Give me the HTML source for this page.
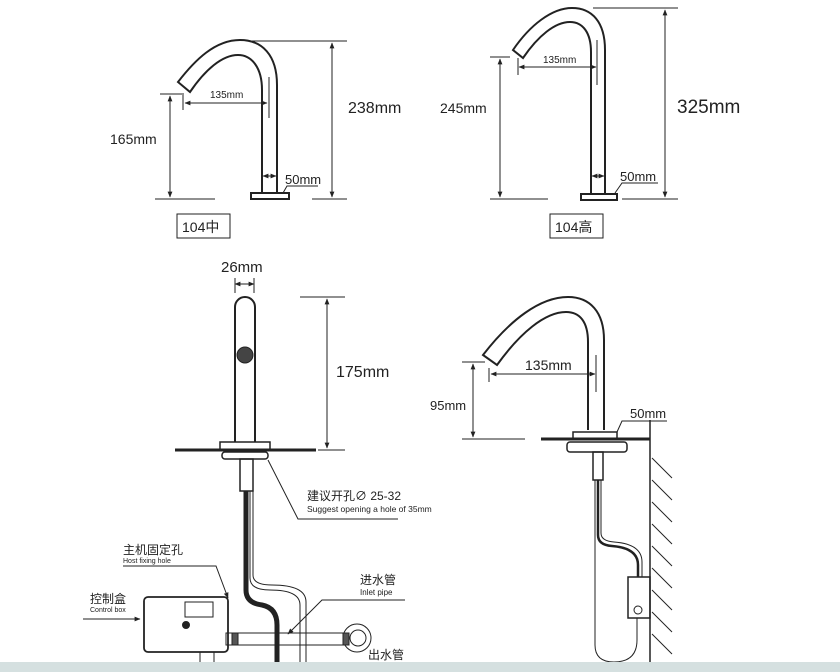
<!DOCTYPE html>
<html><head><meta charset="utf-8"><style>
body{margin:0;background:#fff;}
svg{display:block;}
text{font-family:"Liberation Sans","Noto Sans CJK SC",sans-serif;fill:#222;}
</style></head><body>
<svg width="840" height="672" viewBox="0 0 840 672" xmlns="http://www.w3.org/2000/svg">
<defs>
<marker id="a" viewBox="0 0 10 10" refX="9" refY="5" markerWidth="6" markerHeight="6" orient="auto-start-reverse"><path d="M0,1 L10,5 L0,9 z" fill="#222"/></marker>
</defs>
<g stroke="#222" fill="none" stroke-width="1">
<!-- Faucet 1 -->
<path d="M277,193 L277,85 C277,55 262,40 240,40 C215,40 195,60 178,82 L190,92 C205,70 222,55 238,55 C252,55 262,68 262,90 L262,193" stroke-width="2"/>
<rect x="251" y="193" width="38" height="6" stroke-width="2"/>
<line x1="160" y1="94" x2="182" y2="94"/><line x1="155" y1="199" x2="215" y2="199"/>
<line x1="170" y1="96" x2="170" y2="197" marker-start="url(#a)" marker-end="url(#a)"/>
<line x1="183" y1="93" x2="183" y2="110"/><line x1="269" y1="77" x2="269" y2="118"/>
<line x1="185" y1="103" x2="267" y2="103" marker-start="url(#a)" marker-end="url(#a)"/>
<line x1="252" y1="41" x2="347" y2="41"/><line x1="312" y1="199" x2="347" y2="199"/>
<line x1="332" y1="43" x2="332" y2="197" marker-start="url(#a)" marker-end="url(#a)"/>
<line x1="263" y1="176" x2="276" y2="176" marker-start="url(#a)" marker-end="url(#a)"/>
<path d="M318,186 L287,186 L283,193"/>
<rect x="177" y="214" width="53" height="24"/>
<!-- Faucet 2 -->
<path d="M605,195 L605,50 C605,22 592,8 572,8 C552,8 530,25 513,50 L523,58 C538,36 555,22 570,22 C583,22 591,33 591,52 L591,195" stroke-width="2"/>
<rect x="581" y="194" width="36" height="6" stroke-width="2"/>
<line x1="490" y1="57" x2="510" y2="57"/><line x1="490" y1="199" x2="548" y2="199"/>
<line x1="500" y1="59" x2="500" y2="197" marker-start="url(#a)" marker-end="url(#a)"/>
<line x1="518" y1="58" x2="518" y2="75"/><line x1="597" y1="40" x2="597" y2="85"/>
<line x1="519" y1="67" x2="596" y2="67" marker-start="url(#a)" marker-end="url(#a)"/>
<line x1="593" y1="8" x2="678" y2="8"/><line x1="622" y1="199" x2="678" y2="199"/>
<line x1="665" y1="10" x2="665" y2="197" marker-start="url(#a)" marker-end="url(#a)"/>
<line x1="592" y1="176" x2="604" y2="176" marker-start="url(#a)" marker-end="url(#a)"/>
<path d="M658,183 L622,183 L615,193"/>
<rect x="550" y="214" width="53" height="24"/>
<!-- Front view -->
<path d="M235,442 L235,307 A10,10 0 0 1 255,307 L255,442" stroke-width="2"/>
<circle cx="245" cy="355" r="8" fill="#444"/>
<line x1="235" y1="284" x2="254" y2="284" marker-start="url(#a)" marker-end="url(#a)"/>
<line x1="235" y1="278" x2="235" y2="293"/><line x1="254" y1="278" x2="254" y2="293"/>
<rect x="220" y="442" width="50" height="8" stroke-width="1.5"/>
<line x1="175" y1="450" x2="316" y2="450" stroke-width="3"/>
<rect x="222" y="452" width="46" height="7" rx="3" stroke-width="1.5"/>
<line x1="300" y1="297" x2="345" y2="297"/><line x1="318" y1="450" x2="345" y2="450"/>
<line x1="327" y1="299" x2="327" y2="448" marker-start="url(#a)" marker-end="url(#a)"/>
<rect x="240" y="459" width="13" height="32" stroke-width="1.5"/>
<path d="M246,491 L246,590 Q246,603 262,605 Q277,608 277,625 L277,672" stroke-width="5"/>
<path d="M250,491 L250,578 Q250,590 270,590 Q300,590 300,605 L300,662"/>
<path d="M253,491 L253,575 Q253,585 272,585 Q306,585 306,602 L306,662"/>
<path d="M268,460 L298,519 L398,519"/>
<path d="M123,566 L216,566 L228,598" marker-end="url(#a)"/>
<line x1="83" y1="619" x2="140" y2="619" marker-end="url(#a)"/>
<rect x="144" y="597" width="84" height="55" rx="4" stroke-width="1.8"/>
<rect x="185" y="602" width="28" height="15"/>
<circle cx="186" cy="625" r="3.5" fill="#222"/>
<rect x="200" y="652" width="14" height="12"/>
<rect x="226" y="633" width="120" height="12"/>
<rect x="232" y="633" width="6" height="12" fill="#555"/>
<circle cx="357" cy="638" r="14"/><circle cx="358" cy="638" r="8"/>
<rect x="343" y="633" width="6" height="12" fill="#555"/>
<path d="M405,600 L322,600 L288,634" marker-end="url(#a)"/>
<!-- Side view -->
<path d="M604,430 L604,340 C604,312 590,297 568,297 C540,297 510,320 483,355 L497,365 C520,333 545,312 566,312 C580,312 588,322 588,342 L588,430" stroke-width="2"/>
<line x1="462" y1="362" x2="485" y2="362"/><line x1="462" y1="439" x2="525" y2="439"/>
<line x1="473" y1="364" x2="473" y2="437" marker-start="url(#a)" marker-end="url(#a)"/>
<line x1="489" y1="368" x2="489" y2="382"/><line x1="596" y1="355" x2="596" y2="392"/>
<line x1="491" y1="374" x2="595" y2="374" marker-start="url(#a)" marker-end="url(#a)"/>
<path d="M667,421 L622,421 L617,432"/>
<rect x="573" y="432" width="44" height="7" stroke-width="1.5"/>
<line x1="541" y1="439" x2="650" y2="439" stroke-width="3"/>
<rect x="567" y="442" width="60" height="10" rx="3" stroke-width="1.5"/>
<line x1="650" y1="420" x2="650" y2="662" stroke-width="1.5"/>
<g>
<line x1="652" y1="458" x2="672" y2="478"/><line x1="652" y1="480" x2="672" y2="500"/>
<line x1="652" y1="502" x2="672" y2="522"/><line x1="652" y1="524" x2="672" y2="544"/>
<line x1="652" y1="546" x2="672" y2="566"/><line x1="652" y1="568" x2="672" y2="588"/>
<line x1="652" y1="590" x2="672" y2="610"/><line x1="652" y1="612" x2="672" y2="632"/>
<line x1="652" y1="634" x2="672" y2="654"/>
</g>
<rect x="593" y="452" width="10" height="28" stroke-width="1.5"/>
<path d="M598,480 L598,535 Q598,545 612,546 Q638,548 638,565 L638,577" stroke-width="2.5"/>
<path d="M601,480 L601,533 Q601,541 614,542 Q642,544 642,562 L642,577"/>
<path d="M595,480 L595,645 Q595,662 614,662 Q637,662 637,640 L637,618"/>
<rect x="628" y="577" width="22" height="41" stroke-width="1.5"/>
<circle cx="638" cy="610" r="4"/>
</g>
<g>
<text x="110" y="144" font-size="14">165mm</text>
<text x="210" y="98" font-size="10">135mm</text>
<text x="348" y="113" font-size="16">238mm</text>
<text x="285" y="184" font-size="13">50mm</text>
<text x="182" y="232" font-size="14">104中</text>
<text x="440" y="113" font-size="14">245mm</text>
<text x="543" y="63" font-size="10">135mm</text>
<text x="677" y="113" font-size="19">325mm</text>
<text x="620" y="181" font-size="13">50mm</text>
<text x="555" y="232" font-size="14">104高</text>
<text x="221" y="272" font-size="15">26mm</text>
<text x="336" y="377" font-size="16">175mm</text>
<text x="307" y="500" font-size="12">建议开孔∅ 25-32</text>
<text x="307" y="512" font-size="8.5">Suggest opening a hole of 35mm</text>
<text x="123" y="554" font-size="12">主机固定孔</text>
<text x="123" y="563" font-size="7">Host fixing hole</text>
<text x="90" y="603" font-size="12">控制盒</text>
<text x="90" y="612" font-size="7">Control box</text>
<text x="360" y="584" font-size="12">进水管</text>
<text x="360" y="595" font-size="8">Inlet pipe</text>
<text x="368" y="659" font-size="12">出水管</text>
<text x="368" y="669" font-size="8">Outlet pipe</text>
<text x="525" y="370" font-size="14">135mm</text>
<text x="430" y="410" font-size="13">95mm</text>
<text x="630" y="418" font-size="13">50mm</text>
</g>
<rect x="0" y="662" width="840" height="10" fill="#d5e0e0"/>
</svg>
</body></html>
